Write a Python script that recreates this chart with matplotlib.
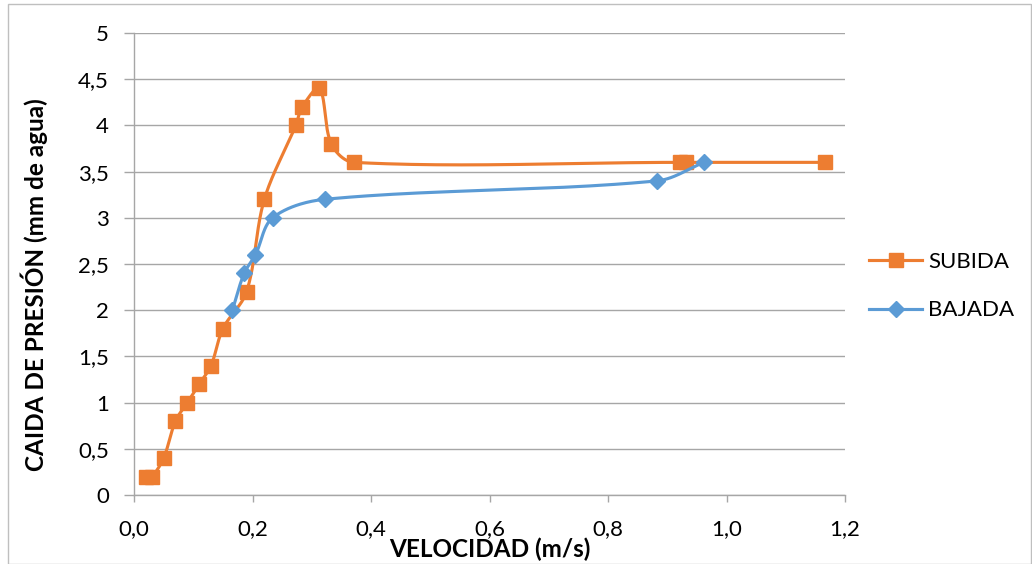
import numpy as np
import matplotlib
matplotlib.use("Agg")
import matplotlib.pyplot as plt
from matplotlib.ticker import FuncFormatter, MultipleLocator
from matplotlib.patches import Rectangle

# data
subida_x = [0.02, 0.03, 0.05, 0.07, 0.09, 0.11, 0.13, 0.15, 0.19, 0.22,
            0.273, 0.284, 0.313, 0.333, 0.371, 0.921, 0.932, 1.167]
subida_y = [0.2, 0.2, 0.4, 0.8, 1.0, 1.2, 1.4, 1.8, 2.2, 3.2,
            4.0, 4.2, 4.4, 3.8, 3.6, 3.6, 3.6, 3.6]
bajada_x = [0.166, 0.186, 0.205, 0.234, 0.322, 0.883, 0.962]
bajada_y = [2.0, 2.4, 2.6, 3.0, 3.2, 3.4, 3.6]

orange = '#ED7D31'
blue = '#5B9BD5'
grid_col = '#A6A6A6'

# pixel size of one data unit, used to make the smoothing look right on screen
XSCALE = 711 / 1.2
YSCALE = 462 / 5.0


def smooth(xs, ys, n=40):
    # smoothed line through the points (chord-length Catmull-Rom, as Bezier)
    p = np.column_stack([np.array(xs) * XSCALE, np.array(ys) * YSCALE])
    m = len(p)
    tang = np.zeros_like(p)
    for i in range(m):
        a = p[max(i - 1, 0)]
        b = p[min(i + 1, m - 1)]
        d = np.linalg.norm(p[i] - a) + np.linalg.norm(b - p[i])
        tang[i] = (b - a) / d if d > 0 else 0
    t = np.linspace(0, 1, n)[:, None]
    out = []
    for i in range(m - 1):
        p1, p2 = p[i], p[i + 1]
        L = np.linalg.norm(p2 - p1)
        b1 = p1 + tang[i] * L / 3
        b2 = p2 - tang[i + 1] * L / 3
        seg = ((1 - t) ** 3) * p1 + 3 * ((1 - t) ** 2) * t * b1 \
            + 3 * (1 - t) * t ** 2 * b2 + t ** 3 * p2
        out.append(seg)
    c = np.vstack(out)
    return c[:, 0] / XSCALE, c[:, 1] / YSCALE


plt.rcParams['font.family'] = ['Lato', 'DejaVu Sans']
FS = 16
LFS = 17.5

fig = plt.figure(figsize=(10.32, 5.64), dpi=100)
ax = fig.add_axes([134 / 1032, 69 / 564, 711 / 1032, 462 / 564])

# chart border
fig.patches.append(Rectangle((8 / 1032, 0), 1 - 8 / 1032 - 0.001, 1 - 4 / 564,
                             transform=fig.transFigure, fill=False,
                             edgecolor='#bfbfbf', linewidth=1))

sx, sy = smooth(subida_x, subida_y)
bx, by = smooth(bajada_x, bajada_y)
ax.plot(sx, sy, color=orange, lw=2.25, zorder=3)
ax.plot(subida_x, subida_y, ls='none', marker='s', ms=10, color=orange, zorder=4)
ax.plot(bx, by, color=blue, lw=2.25, zorder=5)
ax.plot(bajada_x, bajada_y, ls='none', marker='D', ms=8, color=blue, zorder=6)

# legend proxies
ax.plot([], [], color=orange, lw=2.25, marker='s', ms=10, label='SUBIDA')
ax.plot([], [], color=blue, lw=2.25, marker='D', ms=8, label='BAJADA')

ax.set_xlim(0, 1.2)
ax.set_ylim(0, 5)
ax.xaxis.set_major_locator(MultipleLocator(0.2))
ax.yaxis.set_major_locator(MultipleLocator(0.5))
ax.xaxis.set_major_formatter(FuncFormatter(lambda v, p: f"{v:.1f}".replace('.', ',')))
ax.yaxis.set_major_formatter(FuncFormatter(lambda v, p: f"{v:g}".replace('.', ',')))

ax.grid(axis='y', color=grid_col, lw=1)
ax.set_axisbelow(True)
for s in ['top', 'right']:
    ax.spines[s].set_visible(False)
for s in ['left', 'bottom']:
    ax.spines[s].set_color(grid_col)
    ax.spines[s].set_linewidth(1)
ax.tick_params(axis='both', colors=grid_col, labelcolor='black', labelsize=FS, width=1)
ax.tick_params(axis='y', length=7, pad=11)
ax.tick_params(axis='x', length=5, pad=12)

ax.set_ylabel('CAIDA DE PRESIÓN (mm de agua)', fontsize=LFS, fontweight='bold')
ax.yaxis.set_label_coords(-0.121, 0.455)
ax.set_xlabel('VELOCIDAD (m/s)', fontsize=LFS, fontweight='bold')
ax.xaxis.label.set_va('center')
ax.xaxis.set_label_coords(0.5, -0.117)

ax.legend(loc='center left', bbox_to_anchor=(858 / 1032, 1 - 286 / 564),
          bbox_transform=fig.transFigure, frameon=False, fontsize=FS,
          handlelength=2.4, handletextpad=0.25, labelspacing=1.3, borderpad=0)

fig.savefig('out.png', dpi=100)
